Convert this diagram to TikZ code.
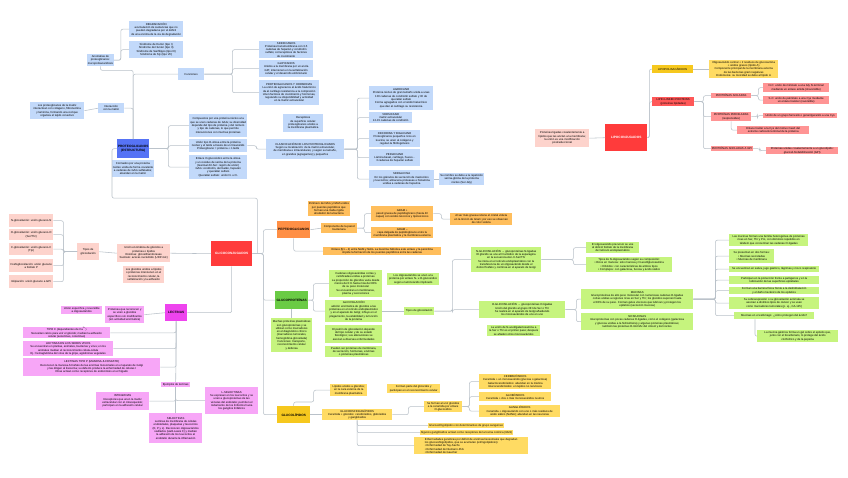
\documentclass[tikz,border=0pt]{standalone}
\usepackage{fontspec}
\setmainfont{Liberation Sans}
\usepackage{tikz}
\definecolor{azul}{HTML}{C2D9FA}
\definecolor{azulr}{HTML}{5673F5}
\definecolor{rojo}{HTML}{FF3B3B}
\definecolor{rosa}{HTML}{FDD3CC}
\definecolor{magr}{HTML}{EE44EE}
\definecolor{magc}{HTML}{F7A6F7}
\definecolor{narr}{HTML}{FF8F45}
\definecolor{narc}{HTML}{FFBE5C}
\definecolor{verr}{HTML}{6ACB45}
\definecolor{verc}{HTML}{C6F47E}
\definecolor{amar}{HTML}{F6C81E}
\definecolor{amac}{HTML}{FFDB63}
\definecolor{rojc}{HTML}{FF9494}
\definecolor{gris}{HTML}{B9C1C9}
\newcommand{\caja}[7]{%
  \pgfmathsetmacro{\cajaw}{#5-#3}\pgfmathsetmacro{\cajah}{#6-#4}%
  \node[#1,anchor=north west,minimum width=\cajaw pt,minimum height=\cajah pt] (#2) at (#3,#4) {#7};}

\begin{document}
\begin{tikzpicture}[x=1pt,y=-1pt,box/.style={inner xsep=0.6pt,inner ysep=0.3pt,align=center,font=\fontsize{2.8}{3.3}\selectfont},raiz/.style={box,font=\fontsize{3.2}{3.8}\selectfont\bfseries},bl/.style={box,fill=azul},pk/.style={box,fill=rosa},mg/.style={box,fill=magc},og/.style={box,fill=narc},gr/.style={box,fill=verc},yl/.style={box,fill=amac},rd/.style={box,fill=rojc},ln/.style={draw=gris,line width=0.55pt,rounded corners=2pt}]
\fill[white] (0,0) rectangle (848,477);
\useasboundingbox (0,0) rectangle (848,477);
\caja{raiz,fill=rojo,text=white}{gc}{211}{241}{252}{266}{GLICOCONJUGADOS}
\caja{bl}{b1}{129}{21}{183}{37}{DEGRADACIÓN\\acumulación de sustancias que no\\pueden degradarse por el déficit\\de una enzima de la vía de degradación}
\caja{bl}{b2}{129}{41}{183}{58}{Síndrome de Hurler (tipo I)\\Síndrome de Hunter (tipo II)\\Síndrome de Sanfilippo (tipo III)\\Síndrome de Sly (tipo VII)}
\caja{bl}{anom}{87}{54}{113}{66}{Anomalías de\\proteoglicanos:\\mucopolisacaridosis}
\caja{bl}{func}{178}{68}{204}{80}{Funciones}
\caja{bl}{f1}{259}{41}{313}{58}{SINDECANOS\\Proteínas transmembrana con 3-5\\cadenas de heparán y condroitín\\sulfato; correceptores de factores\\de crecimiento}
\caja{bl}{f2}{259}{60}{313}{77}{GLIPICANOS\\Unidos a la membrana por un ancla\\GPI; intervienen en la señalización\\celular y el desarrollo embrionario}
\caja{bl}{f3}{259}{80}{319}{105}{PROTEOGLICANOS Y HORMONAS\\La unión de agrecanos al ácido hialurónico\\da al cartílago resistencia a la compresión\\Unen factores de crecimiento y hormonas,\\regulando su disponibilidad y actividad\\en la matriz extracelular}
\caja{bl}{inter}{98}{103}{124}{113}{Interacción\\con la matriz}
\caja{bl}{intL}{30}{102}{84}{119}{Los proteoglicanos de la matriz\\interactúan con colágeno, fibronectina\\y laminina, formando una red que\\organiza el tejido conectivo}
\caja{raiz,fill=azulr}{blroot}{117}{139}{149}{158}{PROTEOGLICANOS\\(ESTRUCTURA)}
\caja{bl}{bldesc}{112}{160}{153}{177}{Formados por una proteína\\núcleo unida de forma covalente\\a cadenas de GAG sulfatados;\\abundan en la matriz}
\caja{bl}{c1}{189}{114}{247}{137}{Compuestos por una proteína núcleo a la\\que se unen cadenas de GAG; su diversidad\\depende del tipo de proteína y del número\\y tipo de cadenas, lo que permite\\interacciones con muchas proteínas}
\caja{bl}{c2}{189}{139}{247}{152}{Unión tipo O-xilosa entre la proteína\\núcleo y el GAG a través de un trisacárido\\Proteoglicano = proteína + n GAG}
\caja{bl}{c3}{189}{155}{247}{179}{Enlace O-glucosídico entre la xilosa\\y un residuo de serina de la proteína\\(Gal-Gal-Xil-Ser: región de unión)\\GAG: condroitín, dermatán, heparán\\y queratán sulfato\\Queratán sulfato: unión N- u O-}
\caja{bl}{recept}{283}{114}{323}{132}{Receptores\\de superficie celular:\\proteoglicanos unidos a\\la membrana plasmática}
\caja{bl}{secc}{266}{139}{344}{159}{CLASIFICACIÓN DE LOS PROTEOGLICANOS\\Según su localización: de la matriz extracelular,\\de membrana e intracelulares; y según su tamaño,\\en grandes (agregantes) y pequeños}
\caja{bl}{s1}{369}{86}{433}{110}{AGRECANO\\Proteína núcleo de gran tamaño unida a unas\\100 cadenas de condroitín sulfato y 30 de\\queratán sulfato\\Forma agregados con el ácido hialurónico\\que dan al cartílago su resistencia}
\caja{bl}{s2}{369}{112}{412}{123}{VERSICANO\\matriz extracelular\\12-15 cadenas de condroitín}
\caja{bl}{s3}{369}{130}{420}{147}{DECORINA Y BIGLICANO\\Proteoglicanos pequeños ricos en\\leucina; se unen al colágeno y\\regulan la fibrilogénesis}
\caja{bl}{s4}{369}{149}{420}{166}{PERLECANO\\Lámina basal, cartílago, hueso...\\3 cadenas de heparán sulfato}
\caja{bl}{s5}{369}{170}{434}{188}{SERGLICINA\\En los gránulos de secreción de mastocitos\\y leucocitos; almacena proteasas e histamina\\unidas a cadenas de heparina}
\caja{bl}{s6}{439}{173}{484}{185}{Su nombre se debe a la repetición\\serina-glicina de la proteína\\núcleo (Ser-Gly)}
\caja{raiz,fill=narr}{pep}{277}{221}{310}{238}{PEPTIDOGLICANOS}
\caja{og}{pnote}{308}{201}{349}{216}{Polímero de NAG y NAM unidos\\por puentes peptídicos que\\forman una malla rígida\\alrededor de la bacteria}
\caja{og}{comp}{321}{223}{357}{233}{Componente de la pared\\bacteriana}
\caja{og}{gp}{371}{206}{433}{221}{GRAM +\\pared gruesa de peptidoglicano (hasta 40\\capas) con ácidos teicoicos y lipoteicoicos}
\caja{og}{gn}{371}{227}{433}{238}{GRAM –\\capa delgada de peptidoglicano entre la\\membrana plasmática y la membrana externa}
\caja{og}{gpR}{450}{213}{512}{225}{Al ser más gruesa retiene el cristal violeta\\en la tinción de Gram; por eso se observan\\de color violeta}
\caja{og}{penl}{323}{247}{441}{255}{Enlace β(1→4) entre NAM y NAG. La lisozima hidroliza este enlace y la penicilina\\impide la formación de los puentes peptídicos entre las cadenas}
\caja{raiz,fill=verr}{glp}{275}{291}{308}{309}{GLUCOPROTEÍNAS}
\caja{gr}{gp1}{329}{270}{382}{297}{Cadenas oligosacáridas cortas y\\ramificadas unidas a proteínas\\La proporción de glúcidos varía desde\\menos del 1\% hasta más del 80\%\\de su peso molecular\\Se encuentran en membranas,\\plasma y secreciones}
\caja{gr}{gp2}{325}{300}{382}{322}{GLICOSILACIÓN\\adición enzimática de glúcidos a las\\proteínas en el retículo endoplasmático\\y en el aparato de Golgi; influye en el\\plegamiento, la estabilidad y la función\\de la proteína}
\caja{gr}{gnote}{387}{273}{439}{285}{Los oligosacáridos se unen a la\\proteína por enlace N- u O-glucosídico\\según el aminoácido implicado}
\caja{gr}{gp3}{325}{325}{382}{343}{El patrón de glicosilación depende\\del tipo celular y de su estado\\fisiológico; sus alteraciones se\\asocian a diversas enfermedades}
\caja{gr}{gp4}{325}{346}{382}{357}{Pueden ser proteínas de membrana,\\de secreción, hormonas, enzimas\\o proteínas plasmáticas}
\caja{gr}{gleft}{271}{318}{312}{352}{Muchas proteínas plasmáticas\\son glucoproteínas y se\\utilizan como marcadores\\en el diagnóstico clínico\\(marcadores tumorales,\\hemoglobina glicosilada)\\Funciones: transporte,\\reconocimiento celular\\y defensa}
\caja{gr}{tipos}{404}{307}{434}{315}{Tipos de glicosilación}
\caja{gr}{nglic}{471}{247}{541}{272}{N-GLICOSILACIÓN → glucoproteínas N-ligadas\\El glúcido se une al N amídico de la asparagina\\en la secuencia Asn-X-Ser/Thr\\Se inicia en el retículo endoplasmático con la\\transferencia de un oligosacárido desde el\\dolicol fosfato y continúa en el aparato de Golgi}
\caja{gr}{oglic}{479}{301}{565}{318}{O-GLICOSILACIÓN → glucoproteínas O-ligadas\\Unión del glúcido al grupo OH de Ser o Thr\\Se realiza en el aparato de Golgi añadiendo\\los monosacáridos de uno en uno}
\caja{gr}{onote}{487}{325}{540}{336}{La unión de N-acetilgalactosamina a\\la Ser o Thr es el primer paso; después\\se añaden otros monosacáridos}
\caja{gr}{n1}{586}{242}{639}{253}{El oligosacárido precursor se une\\al dolicol fosfato de la membrana\\del retículo endoplasmático}
\caja{gr}{n2}{586}{257}{672}{272}{Tipos de N-oligosacáridos según su composición:\\• Ricos en manosa: solo manosa y N-acetilglucosamina\\• Híbridos: con características de ambos tipos\\• Complejos: con galactosa, fucosa y ácido siálico}
\caja{gr}{muc}{581}{289}{693}{309}{MUCINAS\\Glucoproteínas de alto peso molecular con numerosas cadenas O-ligadas\\cortas unidas a regiones ricas en Ser y Thr; los glúcidos suponen hasta\\el 80\% de su peso. Forman geles viscosos que lubrican y protegen los\\epitelios (secreción mucosa)}
\caja{gr}{nomuc}{581}{313}{693}{330}{NO MUCINAS\\Glucoproteínas con pocas cadenas O-ligadas, como el colágeno (galactosa\\y glucosa unidas a la hidroxilisina) y algunas proteínas plasmáticas;\\también las proteínas O-GlcNAc del citosol y del núcleo}
\caja{gr}{m1}{729}{234}{808}{246}{Las mucinas forman una familia heterogénea de proteínas\\ricas en Ser, Thr y Pro, con dominios repetidos en\\tándem que concentran las cadenas O-ligadas}
\caja{gr}{m2}{729}{249}{774}{263}{Se presentan en dos formas:\\• Mucinas secretadas\\• Mucinas de membrana}
\caja{gr}{m3}{729}{266}{819}{272}{Se encuentran en saliva, jugo gástrico, lágrimas y moco respiratorio}
\caja{gr}{m4}{729}{276}{819}{284}{Participan en la protección frente a patógenos y en la\\lubricación de las superficies epiteliales}
\caja{gr}{m5}{729}{287}{819}{294}{Forman una barrera física frente a la deshidratación\\y el daño mecánico de los epitelios}
\caja{gr}{m6}{729}{297}{819}{309}{Su sobreexpresión o su glicosilación anómala se\\asocian a distintos tipos de cáncer y se usan\\como marcadores tumorales (p. ej., CA-125)}
\caja{gr}{m7}{734}{312}{814}{319}{Mucinas en el estómago: ¿cómo protegen del ácido?}
\caja{gr}{m8}{757}{330}{838}{342}{La mucina gástrica forma un gel sobre el epitelio que,\\junto con el bicarbonato, lo protege del ácido\\clorhídrico y de la pepsina}
\caja{pk}{tg}{77}{243}{99}{260}{Tipos de\\glicosilación}
\caja{pk}{p1}{9}{214}{53}{227}{N-glicosilación: unión glucano-N}
\caja{pk}{p2}{9}{229}{53}{240}{O-glicosilación: unión glucano-O\\(Ser/Thr)}
\caja{pk}{p3}{9}{243}{53}{255}{C-glicosilación: unión glucano-C\\(Trp)}
\caja{pk}{p4}{9}{259}{53}{272}{Fosfoglicosilación: unión glucano\\a fosfato P}
\caja{pk}{p5}{9}{275}{53}{288}{Glipiación: unión glucano a GPI}
\caja{pk}{pe}{117}{244}{170}{262}{Unión enzimática de glúcidos a\\proteínas o lípidos\\Enzimas: glicosiltransferasas\\Sustrato: azúcar-nucleótido (UDP-Glc)}
\caja{pk}{pnote2}{123}{266}{164}{283}{Los glúcidos unidos a lípidos\\o proteínas intervienen en el\\reconocimiento celular, la\\señalización y la adhesión}
\caja{raiz,fill=magr}{lec}{165}{304}{187}{321}{LECTINAS}
\caja{mg}{lec1}{105}{306}{144}{323}{Proteínas que reconocen y\\se unen a glúcidos\\específicos sin modificarlos\\(sin actividad enzimática)}
\caja{mg}{lecn}{61}{306}{102}{314}{Unión específica y reversible\\a oligosacáridos}
\caja{mg}{l1}{23}{327}{110}{338}{TIPO C (dependientes de Ca\textsuperscript{2+})\\Necesitan calcio para unir el glúcido; median la adhesión\\celular (selectinas, colectinas)}
\caja{mg}{l2}{23}{341}{113}{356}{LECTINAS EN LOS SERES VIVOS\\Se encuentran en plantas, animales, bacterias y virus; en los\\animales median el reconocimiento célula-célula\\Ej.: hemaglutinina del virus de la gripe, aglutininas vegetales}
\caja{mg}{l3}{23}{358}{160}{376}{LECTINAS TIPO P (MANOSA-6-FOSFATO)\\Reconocen la manosa-6-fosfato de las enzimas lisosomales en el aparato de Golgi\\y las dirigen al lisosoma; su defecto produce la enfermedad de células I\\Otras actúan como receptores de endocitosis en el hígado}
\caja{mg}{ejl}{161}{382}{190}{387}{Ejemplos de lectinas}
\caja{mg}{integ}{96}{392}{149}{410}{INTEGRINAS\\Receptores que unen la matriz\\extracelular con el citoesqueleto;\\participan en la adhesión celular}
\caja{mg}{selec}{149}{413}{202}{443}{SELECTINAS\\Lectinas de membrana de células\\endoteliales, plaquetas y leucocitos\\(E, P y L). Reconocen oligosacáridos\\sialilados (sialil-Lewis X) y median\\la adhesión de los leucocitos al\\endotelio durante la inflamación}
\caja{mg}{lsel}{205}{387}{258}{414}{L-SELECTINAS\\Se expresan en los leucocitos y se\\unen a glucoproteínas de las\\vénulas del endotelio; permiten el\\rodamiento de los linfocitos hacia\\los ganglios linfáticos}
\caja{raiz,fill=amar}{gl}{277}{406}{310}{423}{GLUCOLÍPIDOS}
\caja{yl}{gl1}{330}{384}{367}{396}{Lípidos unidos a glúcidos;\\en la cara externa de la\\membrana plasmática}
\caja{yl}{glnote}{387}{384}{440}{393}{Forman parte del glicocálix y\\participan en el reconocimiento celular}
\caja{yl}{gesf}{322}{409}{392}{420}{GLUCOESFINGOLÍPIDOS\\Ceramida + glúcidos: cerebrósidos, globósidos\\y gangliósidos}
\caja{yl}{gcer}{424}{401}{462}{412}{Se forman al unir glúcidos\\a la ceramida por enlace\\O-glucosídico}
\caja{yl}{ce}{479}{374}{551}{389}{CEREBRÓSIDOS\\Ceramida + un monosacárido (glucosa o galactosa)\\Galactocerebrósidos: abundan en la mielina\\Glucocerebrósidos: en tejidos no nerviosos}
\caja{yl}{glo}{479}{392}{551}{401}{GLOBÓSIDOS\\Ceramida + dos o más monosacáridos neutros}
\caja{yl}{gan}{479}{405}{560}{417}{GANGLIÓSIDOS\\Ceramida + oligosacárido con uno o más residuos de\\ácido siálico (NANA); abundan en las neuronas}
\caja{yl}{y1}{428}{423}{504}{428}{Glucoesfingolípidos con determinantes de grupo sanguíneo}
\caja{yl}{y2}{420}{430}{512}{435}{Algunos gangliósidos actúan como receptores de la toxina colérica (GM1)}
\caja{yl,align=left}{y3}{414}{437}{528}{454}{Enfermedades genéticas por déficit de enzimas lisosomales que degradan\\los glucoesfingolípidos, que se acumulan (esfingolipidosis):\\• Enfermedad de Tay-Sachs\\• Enfermedad de Niemann-Pick\\• Enfermedad de Gaucher}
\caja{raiz,fill=rojo,text=white}{lc}{605}{124}{647}{151}{LIPOCONJUGADOS}
\caja{pk}{lcn}{535}{129}{589}{147}{Proteínas ligadas covalentemente a\\lípidos que las anclan a la membrana;\\la unión es una modificación\\postraduccional}
\caja{yl,fill=amar}{lps}{652}{65}{693}{73}{LIPOPOLISACÁRIDOS}
\caja{yl}{lpsR}{709}{60}{778}{78}{Oligosacárido central + 2 residuos de glucosamina\\+ ácidos grasos (lípido A)\\Componente principal de la membrana externa\\de las bacterias gram negativas\\Endotoxina: su toxicidad se debe al lípido A}
\caja{rd,fill=rojo!85!white}{lip}{652}{97}{694}{106}{LIPID-LINKED PROTEINS\\(proteínas lipidadas)}
\caja{rd}{acil}{711}{93}{751}{98}{PROTEÍNAS ACILADAS}
\caja{rd}{a1}{763}{83}{829}{92}{N-C: unión de miristato a una Gly N-terminal\\mediante un enlace amida (irreversible)}
\caja{rd}{a2}{763}{96}{829}{104}{S-C: unión de palmitato a una Cys mediante\\un enlace tioéster (reversible)}
\caja{rd}{pren}{711}{112}{751}{121}{PROTEÍNAS PRENILADAS\\(isoprenoides)}
\caja{rd}{pr1}{763}{113}{837}{118}{Unión de un grupo farnesilo o geranilgeranilo a una Cys}
\caja{rd}{pr2}{737}{126}{809}{134}{Enlace tioéter a la Cys del motivo CaaX del\\extremo carboxilo terminal de la proteína}
\caja{rd}{gpi}{711}{146}{751}{151}{PROTEÍNAS ANCLADAS A GPI}
\caja{rd}{gpi1}{766}{147}{838}{154}{Proteínas unidas covalentemente a un glucolípido:\\glucosil-fosfatidilinositol (GPI)}
\draw[ln] (anom.east) -- ++(7,0) |- (b1.west);\draw[ln] (anom.east) -- ++(7,0) |- (b2.west);
\draw[ln] (anom.south) -- ++(0,4) -| (blroot.north);\draw[ln] (func.west) -| (blroot.north);\draw[ln] (inter.east) -| (blroot.north);
\draw[ln] (intL.east) -- (inter.west);
\foreach \n in {f1,f2,f3} \draw[ln] (func.east) -- ++(28,0) |- (\n.west);
\foreach \n in {c1,c2,c3} \draw[ln] (blroot.east) -- ++(19,0) |- (\n.west);
\draw[ln] (c2.east) -- ++(9,0) |- (secc.west);
\foreach \n in {s1,s2,s3,s4,s5} \draw[ln] (secc.east) -- ++(13,0) |- (\n.west);
\draw[ln] (s5.east) -- (s6.west);
\draw[ln] (blroot.west) -| ++(-5,49.5) -| ([xshift=5pt]gc.east);
\foreach \n in {pep,glp,gl} \draw[ln] (gc.east) -- ++(11,0) |- (\n.west);
\draw[ln] (pep.east) -- (comp.west);\draw[ln] (pep.south) |- (penl.west);
\foreach \n in {gp,gn} \draw[ln] (comp.east) -- ++(7,0) |- (\n.west);
\draw[ln] (gp.east) -- ++(8,0) |- (gpR.west);
\foreach \n in {gp1,gp2} \draw[ln] (glp.east) -- ++(5,0) |- (\n.west);
\draw[ln] (glp.south) -- (gleft.north);\draw[ln] (gp2.east) -- (tipos.west);
\foreach \n in {nglic,oglic} \draw[ln] (tipos.east) -- ++(18,0) |- (\n.west);
\foreach \n in {n1,n2} \draw[ln] (nglic.east) -- ++(32,0) |- (\n.west);
\foreach \n in {muc,nomuc} \draw[ln] (oglic.east) -- ++(11,0) |- (\n.west);
\foreach \n in {m1,m2,m3,m4,m5,m6,m7} \draw[ln] (muc.east) -- ++(22,0) |- (\n.west);
\draw[ln] ([xshift=21pt]m7.south west) |- (m8.west);
\draw[ln] (gc.west) -- (pe.east);\draw[ln] (pe.west) -- (tg.east);
\foreach \n in {p1,p2,p3,p4,p5} \draw[ln] (\n.east) -- ++(10,0) |- (tg.west);
\draw[ln] (lec.east) -| (gc.south);\draw[ln] (lec.west) -- (lec1.east);
\foreach \n in {l1,l2,l3} \draw[ln] (\n.east) -| (lec.south);
\draw[ln] (lec.south) -- (ejl.north);\draw[ln] (selec.north) -- (ejl.south);
\draw[ln] (integ.east) -| (ejl.south);\draw[ln] (lsel.west) -| (ejl.south);
\draw[ln] (gl.north) -- ++(0,-4) -- ++(20,0) |- (gl1.west);
\draw[ln] (gl.east) -- (gesf.west);\draw[ln] (gesf.east) -- ++(16,0) |- (gcer.west);
\foreach \n in {ce,glo,gan} \draw[ln] (gcer.east) -- ++(7,0) |- (\n.west);
\foreach \n in {y1,y2,y3} \draw[ln] (gesf.south) |- (\n.west);
\draw[ln] (lcn.east) -- (lc.west);
\foreach \n in {lps,lip} \draw[ln] (lc.east) -- ++(2,0) |- (\n.west);
\draw[ln] (lps.east) -- (lpsR.west);
\foreach \n in {acil,pren,gpi} \draw[ln] (lip.east) -- ++(9,0) |- (\n.west);
\foreach \n in {a1,a2} \draw[ln] (acil.east) -- ++(7,0) |- (\n.west);
\draw[ln] (pren.east) -- ++(6,0) |- (pr1.west);\draw[ln] (pren.south) |- (pr2.west);
\draw[ln] (gpi.east) -- ++(7,0) |- (gpi1.west);
\end{tikzpicture}
\end{document}
